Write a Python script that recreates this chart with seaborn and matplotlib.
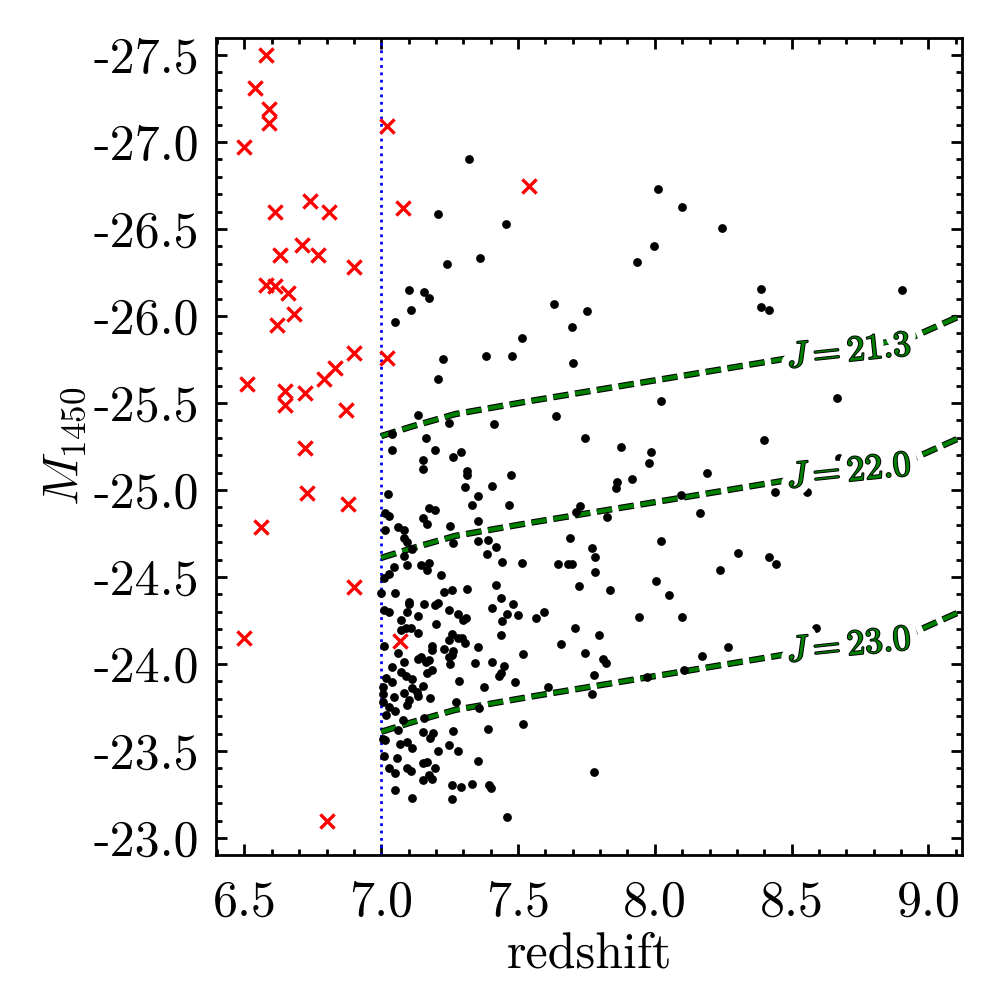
import numpy as np
import pandas as pd
import matplotlib
matplotlib.use('Agg')
import matplotlib.pyplot as plt
import matplotlib.patheffects as pe
from matplotlib.ticker import MultipleLocator
import seaborn as sns

# quasars below z=7 (and a few just above), red crosses
red_z = [6.58, 6.54, 6.59, 6.59, 6.50, 7.02, 6.74, 6.61, 6.81, 7.08, 6.71, 6.63, 6.77,
         6.90, 6.58, 6.61, 6.66, 6.68, 6.62, 6.90, 7.02, 6.83, 6.51, 6.79, 6.65, 6.72,
         6.65, 6.87, 6.72, 6.73, 6.88, 6.56, 6.90, 6.50, 7.07, 6.80, 7.54]
red_m = [-27.50, -27.31, -27.19, -27.11, -26.97, -27.09, -26.66, -26.60, -26.60, -26.62,
         -26.41, -26.35, -26.35, -26.28, -26.18, -26.17, -26.13, -26.01, -25.95, -25.79,
         -25.76, -25.70, -25.61, -25.64, -25.57, -25.56, -25.49, -25.46, -25.24, -24.98,
         -24.92, -24.79, -24.44, -24.15, -24.13, -23.10, -26.75]

# simulated sources at z>7, black dots
black_z = [
    7.322, 7.206, 7.457, 7.362, 7.242, 7.100, 7.158, 7.173, 7.107, 7.052, 7.516, 7.224,
    7.384, 7.479, 7.206, 7.133,
    7.246, 7.414, 7.038, 7.162, 7.041, 7.198, 7.290, 7.264, 7.151, 7.154, 7.315, 7.315,
    7.476, 7.308, 7.406, 7.023, 7.352, 7.333, 7.468, 7.012, 7.027, 7.176, 7.198, 7.151,
    7.166, 7.253, 7.352, 7.012, 7.063, 7.082, 7.082, 7.093, 7.111, 7.264, 7.355, 7.392,
    7.419, 7.388, 7.085, 7.443, 7.516, 7.176, 7.144, 7.093, 7.169, 7.045, 7.030, 7.009,
    7.217, 6.999, 7.052, 7.228, 7.257, 7.315, 7.421, 7.439, 7.103, 7.103, 7.158, 7.198,
    7.209, 7.483,
    7.009, 7.027, 7.096, 7.246, 7.279, 7.136, 7.406, 7.443, 7.458, 7.501, 7.071, 7.300,
    7.311, 7.202, 7.074, 7.092, 7.107, 7.133, 7.260, 7.246, 7.279, 7.297, 7.308, 7.436,
    7.009, 7.187, 7.184, 7.231, 7.264, 7.257, 7.249, 7.352, 7.063, 7.519, 7.144, 7.133,
    7.173, 7.162, 7.082, 7.251, 7.341, 7.406, 7.450, 7.038, 7.187, 7.166, 7.074, 7.089,
    7.438, 7.432, 7.114, 7.016, 7.038, 7.286, 7.490, 7.005, 7.151, 7.114, 7.129, 7.136,
    7.377, 7.005, 7.045, 7.082, 7.180, 7.102, 7.096, 7.005, 7.275, 7.030, 7.052, 7.359,
    7.019, 7.158, 7.078, 7.060, 7.519, 7.392, 7.154, 7.191, 7.180, 7.264, 7.005, 7.012,
    7.067, 7.093, 7.114, 7.249, 7.279, 7.209, 7.009, 7.056, 7.355, 7.166, 7.154, 7.195,
    7.030, 7.096, 7.107, 7.052, 7.176, 7.184, 7.151, 7.257, 7.290, 7.330, 7.395, 7.403,
    7.052, 7.114, 7.257, 7.458,
    8.011, 8.100, 7.998, 7.936, 7.633, 7.753, 7.698, 7.702, 8.023, 7.640, 7.746, 7.877,
    7.987, 7.979, 7.917, 7.862, 7.859, 8.096,
    7.727, 7.713, 7.826, 8.165, 7.691, 8.023, 7.771, 7.782, 7.647, 7.684, 7.698, 7.782,
    8.005, 7.724, 7.837, 8.052, 7.596, 7.567, 7.943, 8.100, 7.709, 7.797, 7.658, 7.746,
    7.811, 7.822, 8.173, 7.779, 7.972, 8.107, 7.611, 7.771, 7.779,
    8.246, 8.388, 8.388, 8.417, 8.903, 8.665, 8.401, 8.191, 8.675, 8.763, 8.439, 8.556,
    8.304, 8.238, 8.417, 8.443, 8.589, 8.268, 8.745]
black_m = [
    -26.900, -26.584, -26.527, -26.331, -26.297, -26.148, -26.136, -26.102, -26.033, -25.964,
    -25.872, -25.751, -25.768, -25.768, -25.636, -25.429,
    -25.385, -25.377, -25.320, -25.297, -25.230, -25.228, -25.216, -25.188, -25.172, -25.121,
    -25.109, -25.084, -25.084, -25.017, -25.021, -24.975, -24.964, -24.914, -24.914, -24.866,
    -24.852, -24.895, -24.883, -24.837, -24.803, -24.793, -24.822, -24.768, -24.787, -24.768,
    -24.722, -24.701, -24.659, -24.693, -24.705, -24.711, -24.670, -24.630, -24.619, -24.584,
    -24.582, -24.582, -24.567, -24.567, -24.538, -24.555, -24.515, -24.492, -24.510, -24.406,
    -24.406, -24.412, -24.423, -24.429, -24.452, -24.377, -24.358, -24.343, -24.343, -24.337,
    -24.349, -24.343,
    -24.310, -24.301, -24.301, -24.310, -24.285, -24.276, -24.320, -24.247, -24.285, -24.282,
    -24.253, -24.253, -24.262, -24.228, -24.195, -24.205, -24.209, -24.180, -24.170, -24.138,
    -24.147, -24.147, -24.119, -24.167, -24.105, -24.105, -24.080, -24.086, -24.077, -24.052,
    -24.042, -24.098, -24.061, -24.055, -24.042, -24.027, -24.023, -24.013, -24.010, -24.000,
    -24.004, -24.010, -23.988, -23.985, -23.965, -23.946, -23.952, -23.933, -23.946, -23.931,
    -23.912, -23.921, -23.895, -23.904, -23.895, -23.870, -23.873, -23.860, -23.837, -23.818,
    -23.866, -23.826, -23.812, -23.831, -23.803, -23.793, -23.764, -23.783, -23.783, -23.755,
    -23.732, -23.745, -23.707, -23.688, -23.678, -23.621, -23.655, -23.624, -23.607, -23.603,
    -23.573, -23.613, -23.567, -23.563, -23.538, -23.554, -23.519, -23.534, -23.500, -23.500,
    -23.473, -23.458, -23.442, -23.439, -23.429, -23.404, -23.400, -23.404, -23.385, -23.372,
    -23.362, -23.339, -23.333, -23.303, -23.295, -23.308, -23.305, -23.285, -23.276, -23.228,
    -23.224, -23.119,
    -26.728, -26.625, -26.400, -26.308, -26.067, -26.027, -25.935, -25.728, -25.510, -25.423,
    -25.297, -25.245, -25.216, -25.153, -25.061, -25.044, -25.010, -24.971,
    -24.906, -24.875, -24.843, -24.866, -24.722, -24.705, -24.665, -24.613, -24.573, -24.573,
    -24.573, -24.527, -24.475, -24.446, -24.423, -24.395, -24.297, -24.263, -24.268, -24.268,
    -24.205, -24.165, -24.113, -24.061, -24.027, -24.004, -24.044, -23.935, -23.925, -23.964,
    -23.866, -23.826, -23.377,
    -26.504, -26.153, -26.050, -26.034, -26.149, -25.527, -25.287, -25.096, -25.182, -25.163,
    -24.987, -24.987, -24.636, -24.540, -24.613, -24.573, -24.205, -24.096, -24.109]

# J-band limits: M1450 = J - (J - M)(z)
jlim_z = [7.0, 7.11, 7.27, 7.55, 8.0, 8.46, 8.93, 9.13]
jlim_offset = [46.61, 46.664, 46.736, 46.813, 46.93, 47.05, 47.17, 47.31]
j_values = [21.3, 22.0, 23.0]

xticks = [6.5, 7.0, 7.5, 8.0, 8.5, 9.0]
yticks = [-27.5, -27.0, -26.5, -26.0, -25.5, -25.0, -24.5, -24.0, -23.5, -23.0]

sns.set_style('ticks')
plt.rcParams['font.family'] = 'serif'
plt.rcParams['font.serif'] = ['cmr10', 'DejaVu Serif']
plt.rcParams['mathtext.fontset'] = 'cm'
plt.rcParams['axes.unicode_minus'] = False
for key in ['text.color', 'axes.labelcolor', 'axes.edgecolor', 'xtick.color', 'ytick.color']:
    plt.rcParams[key] = 'black'

fig = plt.figure(figsize=(5, 5), dpi=200)
ax = fig.add_axes([0.216, 0.145, 0.746, 0.817])

red_df = pd.DataFrame({'z': red_z, 'M': red_m})
black_df = pd.DataFrame({'z': black_z, 'M': black_m})

ax.axvline(7.0, color='blue', linestyle=':', linewidth=1.0, zorder=1)

line_pe = [pe.Stroke(linewidth=2.3, foreground='black'), pe.Normal()]
text_pe = [pe.Stroke(linewidth=6, foreground='white'),
           pe.Stroke(linewidth=0.7, foreground='black'), pe.Normal()]
label_m = [-25.79, -25.10, -24.10]
for j, lm in zip(j_values, label_m):
    lim_df = pd.DataFrame({'z': jlim_z, 'M': [j - o for o in jlim_offset]})
    sns.lineplot(data=lim_df, x='z', y='M', ax=ax, sort=False, estimator=None,
                 color='green', linestyle='--', linewidth=1.5, zorder=2,
                 path_effects=line_pe)
    ax.text(8.71, lm, f'$J={j:.1f}$', color='green', fontsize=13, rotation=6,
            ha='center', va='center', zorder=4, path_effects=text_pe)

sns.scatterplot(data=black_df, x='z', y='M', ax=ax, color='black', marker='o',
                s=10, linewidth=0, zorder=3)
sns.scatterplot(data=red_df, x='z', y='M', ax=ax, color='red', marker='x',
                s=26, linewidth=1.2, zorder=3)

ax.set_xlim(6.396, 9.123)
ax.set_ylim(-22.902, -27.598)
ax.set_xticks(xticks, [f'{v:.1f}' for v in xticks])
ax.set_yticks(yticks, [f'{v:.1f}' for v in yticks])
ax.xaxis.set_minor_locator(MultipleLocator(0.1))
ax.yaxis.set_minor_locator(MultipleLocator(0.1))
ax.tick_params(which='both', direction='in', top=True, right=True, width=1.0,
               labelsize=18)
ax.tick_params(which='major', length=4)
ax.tick_params(which='minor', length=2.2)
ax.tick_params(axis='x', which='major', pad=9)
ax.tick_params(axis='y', which='major', pad=6)
for s in ax.spines.values():
    s.set_linewidth(1.0)

ax.set_xlabel('redshift', fontsize=18, labelpad=2)
ax.set_ylabel('$M_{1450}$', fontsize=18, labelpad=2)

fig.savefig('out.png', dpi=200)
